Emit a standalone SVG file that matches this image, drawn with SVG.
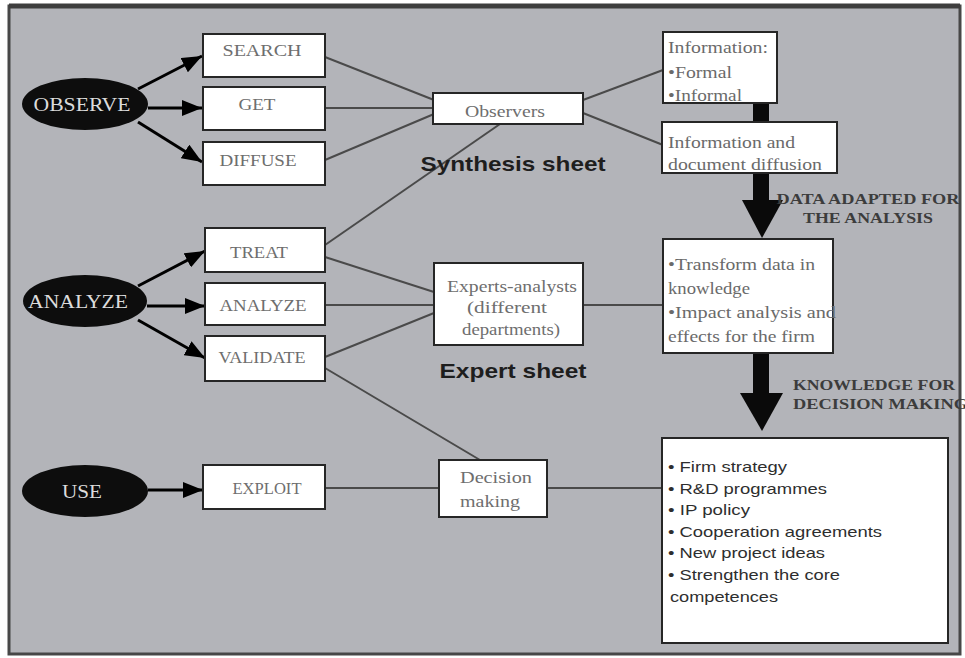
<svg xmlns="http://www.w3.org/2000/svg" width="965" height="658" viewBox="0 0 965 658">
<style>
.box{fill:#ffffff;stroke:#262626;stroke-width:2}
.ell{fill:#0d0d0d;stroke:none}
.et{font-family:"Liberation Serif",serif;font-size:19px;fill:#dcdcdc;text-anchor:middle}
.bt{font-family:"Liberation Serif",serif;font-size:16px;fill:#6e6e6e;text-anchor:middle}
.lt{font-family:"Liberation Serif",serif;font-size:16px;fill:#6a6a6a}
.sh{font-family:"Liberation Sans",sans-serif;font-size:21px;font-weight:bold;fill:#1e1e1e;text-anchor:middle}
.ar{font-family:"Liberation Serif",serif;font-size:14px;font-weight:bold;fill:#3c3c3c}
.ft{font-family:"Liberation Sans",sans-serif;font-size:15px;fill:#2e2e2e}
.cn{stroke:#4a4a4a;stroke-width:2;fill:none}
.ea{stroke:#000;stroke-width:3;fill:none;marker-end:url(#ah)}
</style>
<defs>
<marker id="ah" markerUnits="userSpaceOnUse" markerWidth="20" markerHeight="16" viewBox="0 0 20 16" refX="20" refY="8" orient="auto">
<path d="M0,0 L20,8 L0,16 Z" fill="#000"/>
</marker>
</defs>
<rect x="0" y="0" width="965" height="658" fill="#ffffff"/>
<rect x="9" y="6" width="951" height="648" fill="#b3b4b9" stroke="#474747" stroke-width="3"/>
<line x1="9" y1="6" x2="960" y2="6" stroke="#3e3e3e" stroke-width="5"/>

<g id="connectors">
<line class="cn" x1="325" y1="57" x2="434" y2="100"/>
<line class="cn" x1="325" y1="108" x2="434" y2="108"/>
<line class="cn" x1="325" y1="160" x2="434" y2="114"/>
<line class="cn" x1="325" y1="245" x2="500" y2="124"/>
<line class="cn" x1="583" y1="100" x2="663" y2="70"/>
<line class="cn" x1="583" y1="113" x2="663" y2="145"/>
<line class="cn" x1="325" y1="257" x2="434" y2="292"/>
<line class="cn" x1="325" y1="305" x2="434" y2="305"/>
<line class="cn" x1="325" y1="357" x2="434" y2="313"/>
<line class="cn" x1="325" y1="368" x2="480" y2="460"/>
<line class="cn" x1="583" y1="305" x2="663" y2="305"/>
<line class="cn" x1="325" y1="488" x2="439" y2="488"/>
<line class="cn" x1="547" y1="488" x2="662" y2="488"/>
<line class="ea" x1="138" y1="89" x2="202" y2="56"/>
<line class="ea" x1="148" y1="108" x2="202" y2="108"/>
<line class="ea" x1="138" y1="122" x2="202" y2="162"/>
<line class="ea" x1="138" y1="286" x2="205" y2="251"/>
<line class="ea" x1="147" y1="306" x2="205" y2="306"/>
<line class="ea" x1="138" y1="320" x2="205" y2="358"/>
<line class="ea" x1="148" y1="490" x2="203" y2="490"/>
<rect x="753" y="100" width="16" height="104" fill="#0a0a0a"/>
<polygon points="742,200 783,200 762,238" fill="#0a0a0a"/>
<rect x="753" y="350" width="16" height="46" fill="#0a0a0a"/>
<polygon points="740,393 783,393 762,431" fill="#0a0a0a"/>
</g>

<g id="observe"><ellipse class="ell" cx="85" cy="104" rx="63" ry="26"/><text class="et" x="82" y="111" textLength="97" lengthAdjust="spacingAndGlyphs">OBSERVE</text></g>
<g id="analyze"><ellipse class="ell" cx="85" cy="301" rx="62" ry="26"/><text class="et" x="78" y="308" textLength="100" lengthAdjust="spacingAndGlyphs">ANALYZE</text></g>
<g id="use"><ellipse class="ell" cx="85" cy="491" rx="63" ry="26"/><text class="et" x="82" y="498" textLength="40" lengthAdjust="spacingAndGlyphs">USE</text></g>

<g id="search"><rect class="box" x="203" y="34" width="122" height="43"/><text class="bt" x="262" y="56" textLength="79" lengthAdjust="spacingAndGlyphs">SEARCH</text></g>
<g id="get"><rect class="box" x="203" y="87" width="122" height="43"/><text class="bt" x="257" y="110" textLength="37" lengthAdjust="spacingAndGlyphs">GET</text></g>
<g id="diffuse"><rect class="box" x="203" y="142" width="122" height="43"/><text class="bt" x="258" y="166" textLength="77" lengthAdjust="spacingAndGlyphs">DIFFUSE</text></g>
<g id="treat"><rect class="box" x="205" y="228" width="120" height="44"/><text class="bt" x="259" y="258" textLength="58" lengthAdjust="spacingAndGlyphs">TREAT</text></g>
<g id="analyze-box"><rect class="box" x="205" y="283" width="120" height="42"/><text class="bt" x="263" y="311" textLength="87" lengthAdjust="spacingAndGlyphs">ANALYZE</text></g>
<g id="validate"><rect class="box" x="205" y="336" width="120" height="45"/><text class="bt" x="262" y="363" textLength="87" lengthAdjust="spacingAndGlyphs">VALIDATE</text></g>
<g id="exploit"><rect class="box" x="203" y="465" width="122" height="44"/><text class="bt" x="267" y="494" font-size="14" textLength="69" lengthAdjust="spacingAndGlyphs">EXPLOIT</text></g>

<g id="observers"><rect class="box" x="433" y="93" width="150" height="31"/><text class="bt" x="505" y="117" textLength="80" lengthAdjust="spacingAndGlyphs">Observers</text></g>
<g id="synthesis-label"><text class="sh" x="513" y="171" textLength="185" lengthAdjust="spacingAndGlyphs">Synthesis sheet</text></g>
<g id="experts"><rect class="box" x="434" y="263" width="149" height="82"/>
<text class="bt" x="512" y="292" textLength="130" lengthAdjust="spacingAndGlyphs">Experts-analysts</text>
<text class="bt" x="507" y="313" textLength="80" lengthAdjust="spacingAndGlyphs">(different</text>
<text class="bt" x="511" y="335" textLength="98" lengthAdjust="spacingAndGlyphs">departments)</text></g>
<g id="expert-label"><text class="sh" x="513" y="378" textLength="147" lengthAdjust="spacingAndGlyphs">Expert sheet</text></g>
<g id="decision"><rect class="box" x="439" y="460" width="108" height="57"/>
<text class="bt" x="496" y="483" textLength="72" lengthAdjust="spacingAndGlyphs">Decision</text>
<text class="bt" x="490" y="507" textLength="60" lengthAdjust="spacingAndGlyphs">making</text></g>

<g id="information"><rect class="box" x="663" y="32" width="114" height="71"/>
<text class="lt" x="668" y="53" textLength="100" lengthAdjust="spacingAndGlyphs">Information:</text>
<text class="lt" x="668" y="78" textLength="64" lengthAdjust="spacingAndGlyphs">•Formal</text>
<text class="lt" x="668" y="101" textLength="74" lengthAdjust="spacingAndGlyphs">•Informal</text></g>
<g id="diffusion"><rect class="box" x="662" y="122" width="175" height="51"/>
<text class="lt" x="668" y="148" textLength="127" lengthAdjust="spacingAndGlyphs">Information and</text>
<text class="lt" x="668" y="170" textLength="154" lengthAdjust="spacingAndGlyphs">document diffusion</text></g>
<g id="data-label">
<text class="ar" x="868" y="204" text-anchor="middle" textLength="183" lengthAdjust="spacingAndGlyphs">DATA ADAPTED FOR</text>
<text class="ar" x="868" y="223" text-anchor="middle" textLength="130" lengthAdjust="spacingAndGlyphs">THE ANALYSIS</text></g>
<g id="transform"><rect class="box" x="663" y="239" width="170" height="114"/>
<text class="lt" x="668" y="270" textLength="147" lengthAdjust="spacingAndGlyphs">•Transform data in</text>
<text class="lt" x="668" y="294" textLength="82" lengthAdjust="spacingAndGlyphs">knowledge</text>
<text class="lt" x="668" y="318" textLength="168" lengthAdjust="spacingAndGlyphs">•Impact analysis and</text>
<text class="lt" x="668" y="342" textLength="147" lengthAdjust="spacingAndGlyphs">effects for the firm</text></g>
<g id="knowledge-label">
<text class="ar" x="793" y="390" textLength="162" lengthAdjust="spacingAndGlyphs">KNOWLEDGE FOR</text>
<text class="ar" x="793" y="409" textLength="175" lengthAdjust="spacingAndGlyphs">DECISION MAKING</text></g>
<g id="outcomes"><rect class="box" x="662" y="438" width="286" height="205"/>
<text class="ft" x="668" y="472" textLength="119" lengthAdjust="spacingAndGlyphs">• Firm strategy</text>
<text class="ft" x="668" y="494" textLength="159" lengthAdjust="spacingAndGlyphs">• R&amp;D programmes</text>
<text class="ft" x="668" y="515" textLength="82" lengthAdjust="spacingAndGlyphs">• IP policy</text>
<text class="ft" x="668" y="537" textLength="214" lengthAdjust="spacingAndGlyphs">• Cooperation agreements</text>
<text class="ft" x="668" y="558" textLength="157" lengthAdjust="spacingAndGlyphs">• New project ideas</text>
<text class="ft" x="668" y="580" textLength="172" lengthAdjust="spacingAndGlyphs">• Strengthen the core</text>
<text class="ft" x="670" y="602" textLength="108" lengthAdjust="spacingAndGlyphs">competences</text></g>
</svg>
